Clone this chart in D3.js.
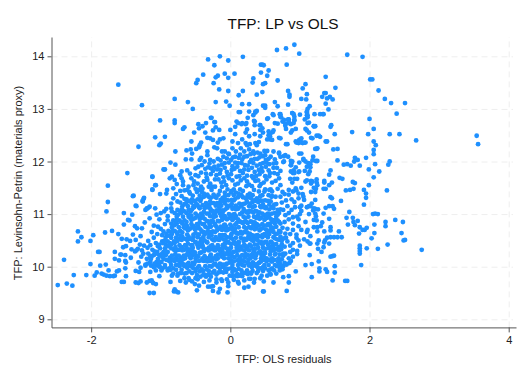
<!DOCTYPE html>
<html><head><meta charset="utf-8">
<script src="https://cdn.jsdelivr.net/npm/d3@7"></script>
<style>html,body{margin:0;padding:0;background:#fff}svg{display:block}text{font-family:"Liberation Sans",Arial,sans-serif}</style>
</head><body><div id="c"></div>
<script>
const titleText="TFP: LP vs OLS", xLabel="TFP: OLS residuals", yLabel="TFP: Levinsohn-Petrin (materials proxy)";
const xTicks=[-2,0,2,4], yTicks=[9,10,11,12,13,14];
const upperPoints=[[-1.61,13.46],[-1.27,13.07],[-.8,13.19],[-.61,13.13],[-.54,13],[-1.01,12.78],[-.8,12.78],[-.8,12.73],[-.66,12.65],[-.68,12.62],[-1.08,12.46],[-.94,12.47],[-1.32,12.28],[-1,12.34],[-1.02,12.31],[-.79,12.19],[-.86,11.98],[-.79,11.94],[-1.48,11.78],[-1.76,11.54],[-1.12,11.71],[-1.08,11.55],[-1.12,11.46],[-.95,11.85],[-.32,13.94],[-.15,14],[-.03,13.92],[.18,13.99],[-.23,13.83],[-.39,13.65],[-.47,13.55],[-.49,13.49],[-.24,13.49],[-.21,13.6],[-.18,13.63],[-.08,13.67],[-.03,13.59],[.06,13.67],[-.16,13.37],[-.03,13.34],[-.21,13.13],[-.06,13.14],[-.01,13.06],[.18,13.34],[.12,13.26],[.17,13.09],[.27,13.09],[.12,12.94],[.33,13.58],[.32,13.5],[.38,13.27],[.44,13.84],[.46,13.84],[.44,13.69],[.47,13.47],[.46,13.32],[.47,13.06],[.5,13.06],[.38,12.96],[.36,12.93],[.33,12.88],[.25,12.83],[-.28,12.83],[-.22,12.75],[.11,12.73],[.16,12.71],[.22,12.71],[.35,12.76],[.43,12.69],
[.67,14.12],[.8,14.15],[.92,14.22],[.99,14.05],[1.68,14.03],[1.9,13.99],[.81,13.84],[.55,13.73],[.48,13.83],[.53,13.63],[.68,13.54],[.5,13.49],[1.37,13.61],[1.08,13.47],[1.04,13.39],[.83,13.34],[.85,13.27],[.85,13.23],[1.1,13.28],[1.02,13.19],[1.09,13.18],[1.51,13.4],[1.35,13.3],[1.37,13.3],[1.32,13.23],[1.39,13.2],[1.43,13.23],[1.47,13.18],[1.37,13.1],[.64,13.13],[.68,13.05],[.83,13.08],[.5,13.02],[1.14,13.05],[1.11,13],[1.1,12.93],[1.1,12.88],[1.11,12.84],[1.07,12.8],[1.41,12.99],[1.21,12.9],[1.33,12.9],[2.01,13.56],[2.04,13.56],[2.13,13.35],[2.22,13.19],[2.31,13.11],[2.51,13.11],[2.39,12.91],[2,12.81],[2.06,12.62],[1.75,12.56],[1.98,12.52],[2.29,12.52],[2.43,12.52],[2.67,12.4],[3.54,12.49],[3.56,12.33],[2.06,12.38],[2.09,12.31],[2.06,12.22],[2.06,12.14],[2.29,12],[2.27,11.94],[2.08,11.95],[1.99,11.85],[2.14,11.81],[2.06,11.7],[1.99,11.55],[1.92,11.46],[2.25,11.45],[1.95,12.07],[1.79,12.07],[1.83,12.03],[1.78,12],[1.86,11.92],[1.73,11.92],[1.68,11.95],[1.63,11.94],[1.54,12.02],[1.48,12.23],[1.54,12.24],[1.5,12.52],[1.45,12.69],[1.44,12.66],[1.27,12.49],[1.24,12.49],[1.16,12.45],[1.37,12.38],[1.24,12.24],[1.22,12.24],[1.19,12.09],[1.23,12.01],[1.12,11.97],[1.14,11.96],[1.44,11.83],[1.14,11.81],[1.07,11.82],[1.12,11.76],[1.57,11.69],[1.61,11.67],[1.76,11.61],[1.79,11.59],[1.35,11.63],[1.46,11.6],[1.24,11.6],[1.16,11.63],[1.16,11.58],[1.08,11.62],[1.2,11.5],[1.37,11.48],[1.66,11.45],[1.72,11.46],[1.77,11.48],[.86,11.67],[.92,11.67],[.89,11.6],[.96,11.67],[.95,11.45],[.98,11.8],[.91,11.83],[.9,11.78],[1.05,12.05],[.99,11.98],[.87,12.01],[.88,11.97],[.87,11.93],[.76,11.99],[.83,12.09],[.77,12.1],[.7,12.15],
[.71,12.9],[.72,12.85],[.75,12.76],[.68,12.72],[.79,12.68],[.87,12.71],[.83,12.8],[.84,12.76],[.92,12.78],[.89,12.92],[.92,12.85],[1,12.89],[.61,12.9],[.53,12.81],[.61,12.56],[.57,12.52],[.55,12.5],[.57,12.42],[.7,12.45],[.72,12.44],[.87,12.55],[.94,12.62],[.8,12.33],[.94,12.38],[.98,12.35],[1.01,12.42],[1.04,12.35],[1.08,12.36],[1.08,12.62],[1.1,12.59],[1.13,12.55],[1.11,12.73],[1.2,12.67],[1.22,12.67]];
const upperCorePoints=[[-.46,12.71],[-.4,12.67],[-.45,12.63],[-.35,12.73],[-.52,12.55],[-.36,12.55],[-.21,12.65],[-.25,12.59],[-.16,12.6],[-.27,12.83],[-.23,12.75],[-.29,12.44],[-.33,12.45],[-.25,12.41],[-.42,12.36],[-.44,12.31],[-.45,12.27],[-.15,12.42],[-.18,12.36],[-.1,12.44],[-.23,12.27],[-.19,12.25],[-.56,12.38],[-.63,12.21],[-.57,12.23],[-.49,12.24],[-.55,12.15],[-.64,12.04],[-.56,12.04],[-.42,12.07],[-.44,12.03],[-.33,12.19],[-.33,12.12],[-.29,12.03],[-.24,12],[-.12,12.19],[-.08,12.19],[-.03,12.15],[-.46,11.9],[-.5,11.87],[-.41,11.93],[-.32,11.89],[-.23,11.9],[-.35,11.77],[-.7,11.81],[-.72,11.74],[-.62,11.83],[-.58,11.77],[-.84,11.71],[-.87,11.68],[-.8,11.65],[-.7,11.68],[-.68,11.62],[-.56,11.68],[-.77,11.57],[-.82,11.49],[-.68,11.55],[-.6,11.52],[-.53,11.55],[-.94,11.85],[-.96,11.85],[-1.12,11.71],[-1.07,11.55],[-1.12,11.47],[-.91,11.46],[-.92,11.39],[-1.01,11.38],[-1.25,11.28],[-1.26,11.24],[-1.39,11.35],[-1.36,11.16],[-1.2,11.11],[-1.16,11.14],[-1.08,11.11],
[.36,12.95],[.14,12.94],[.27,12.95],[.54,12.82],[.62,12.88],[.72,12.9],[.73,12.84],[.64,12.73],[.77,12.79],[.89,12.92],[.91,12.9],[.84,12.8],[.79,12.72],[.84,12.73],[.91,12.73],[.92,12.79],[1.1,12.95],[1.11,12.88],[1.13,12.74],[1.2,12.67],[1.29,12.9],[1.34,12.9],[.8,12.62],[.89,12.59],[.34,12.77],[.35,12.69],[.09,12.76],[.17,12.73],[.23,12.73],[.42,12.69],[.07,12.66],[0,12.6],[.07,12.52],[.24,12.61],[.22,12.55],[.27,12.48],[.35,12.52],[.43,12.6],[.46,12.63],[.47,12.55],[.55,12.57],[.62,12.59],[.57,12.48],[.53,12.42],[.43,12.48],[.41,12.37],[.17,12.42],[.22,12.35],[.24,12.31],[.36,12.35],[.38,12.31],[.28,12.33],[.03,12.38],[.11,12.35],[.6,12.41],[.95,12.36],[.99,12.41],[1.02,12.44],[1.02,12.36],[1.06,12.36],[.82,12.33],[1.18,12.44],[1.29,12.47],[1.39,12.38],[1.25,12.25],[.99,12.15],[1.02,12.15],[.03,12.25],[.08,12.19],[.15,12.25],[.2,12.19],[.27,12.23],[.33,12.19],[.49,12.2],[.53,12.2],[.43,12.15],[.39,12.17],[.34,12.15],[.62,12.19],[.7,12.17],[.72,12.09],[.79,12.12],[.77,12],[.89,12],[.87,11.93],[.94,11.89],[1.05,12.03],[1.08,12],[1.18,12.02],[1.25,12.01],[1.15,11.95],[1.15,11.89],[1.1,11.9],[.99,11.81],[.92,11.78],[.87,11.81],[1.1,11.64],[1.18,11.62],[1.24,11.66],[1.25,11.55],[1.42,11.75],[1.42,11.55],[1.35,11.6],[1.34,11.48],[1.23,11.48],[1.22,11.42],[1.16,11.42],[1.02,11.5],[.94,11.49],[.9,11.43],[.84,11.46],[.75,11.42],[.84,11.37],[1.04,11.38],[.98,11.39],[1.05,11.33],[1.22,11.27],[1.17,11.2],[1.1,11.13],[1.22,11.1],[.98,11.3],[.92,11.23],
[-.38,11.62],[-.29,11.58],[-.22,11.66],[-.13,11.6],[-.06,11.55],[.03,11.64],[.11,11.58],[.2,11.68],[.27,11.56],[.36,11.63],[.44,11.57],[.52,11.66],[.6,11.6],[-.46,11.72],[-.34,11.7],[-.2,11.74],[-.1,11.7],[.01,11.76],[.09,11.71],[.18,11.78],[.31,11.72],[.42,11.76],[.5,11.72],[.63,11.78],[.7,11.68],[-.25,11.82],[-.14,11.84],[-.05,11.8],[.06,11.86],[.14,11.82],[.26,11.84],[.35,11.8],[.45,11.88],[.55,11.83],[.62,11.88],[.72,11.82],[-.17,11.92],[-.08,11.97],[.03,11.91],[.11,11.97],[.21,11.93],[.28,11.99],[.38,11.92],[.47,11.97],[.56,11.95],[.66,11.97],[-.18,12.05],[-.1,12.09],[.01,12.03],[.07,12.09],[.17,12.04],[.24,12.1],[.35,12.05],[.42,12.08],[.51,12.03],[.58,12.09],[.64,12.04],[-.02,12.14],[.14,12.13],[.29,12.14],[.5,12.12],
[-.52,11.62],[-.47,11.58],[-.42,11.52],[-.33,11.65],[-.26,11.52],[-.17,11.66],[-.09,11.62],[-.02,11.68],[.07,11.56],[.15,11.64],[.24,11.62],[.33,11.68],[.4,11.64],[.48,11.6],[.56,11.72],[.65,11.63],[-.5,11.74],[-.42,11.79],[-.28,11.76],[-.15,11.77],[-.04,11.73],[.13,11.72],[.24,11.73],[.37,11.72],[.46,11.81],[.57,11.78],[.68,11.76],[-.36,11.86],[-.28,11.87],[-.19,11.85],[-.08,11.88],[.02,11.84],[.1,11.9],[.2,11.85],[.31,11.88],[.41,11.84],[.51,11.9],[.67,11.88],[-.12,11.94],[-.02,11.98],[.07,11.98],[.16,11.97],[.25,11.92],[.33,11.97],[.43,11.95],[.52,11.98],[.62,11.96],[-.37,12],[-.3,11.96],[-.14,12.02],[-.05,12.06],[.04,12.08],[.12,12.07],[.2,12.09],[.3,12.03],[.39,12.05],[.47,12.1],[.55,12.05]];
const leftPoints=[[-2.48,9.65],[-2.35,9.68],[-2.27,9.64],[-2.25,9.84],[-2.39,10.13],[-2.19,10.67],[-2.14,10.56],[-2.19,10.48],[-1.97,10.6],[-2.01,10.49],[-1.9,10.28],[-1.88,10.28],[-2.01,10.05],[-1.87,10.02],[-1.79,10.04],[-2.07,9.84],[-1.92,9.89],[-1.95,9.83],[-1.85,9.87],[-1.82,9.85],[-1.78,9.83],[-1.73,9.82],[-1.68,9.82],[-1.66,9.83],[-1.75,9.93],[-1.63,9.91],[-1.6,9.93],[-1.66,10.28],[-1.66,10.15],[-1.6,10.12],[-1.58,10.23],[-1.51,10.22],[-1.51,10.11],[-1.5,10.08],[-1.43,10.17],[-1.51,9.97],[-1.5,9.82],[-1.56,9.71],[-1.53,9.71],[-1.36,9.92],[-1.31,9.9],[-1.36,9.7],[-1.32,9.69],[-1.29,9.72],[-1.2,9.7],[-1.16,9.73],[-1.13,9.74],[-1.11,9.69],[-1.07,9.67],[-1.16,9.5],[-1.1,9.5],[-.8,9.57],[-.78,9.53],[-.81,9.53],[-.75,9.51],[-1.78,11.05],[-1.76,11.23],[-1.8,10.65],[-1.7,10.68],[-1.61,10.62],[-1.53,11.02],[-1.53,10.8],[-1.41,10.99],[-1.47,10.89],[-1.45,10.88],[-1.4,11.34],[-1.35,11.15],[-1.24,11.31],[-1.26,11.25],[-1.22,11.08],[-1.18,11.12],[-1.2,11.1],[-1.16,10.92],[-1.23,10.84],[-1.37,10.77],[-1.34,10.73],[-1.27,10.73],[-1.4,10.61],[-1.36,10.51],[-1.29,10.58],[-1.49,10.52],[-1.44,10.49],[-1.56,10.53],[-1.5,10.39],[-1.54,10.37],[-1.57,10.23],[-1.3,10.42],[-1.18,10.49],[-1.33,10.34],[-1.35,10.31],[-1.42,10.33],[-1.37,10.29],[-1.25,10.25],[-1.28,10.19],[-1.2,10.15],[-1.32,10.08],[-1.24,10.4],[-1.15,10.41],[-1.1,10.55],[-1.12,10.32],[-1.18,10.25],[-1.05,10.62],[-1.1,10.78],[-1.02,10.9],[-1,10.72],[-.95,11.05],[-.9,10.96],[-1,11.02],[-1.06,10.99],[-.85,11.2],[-.92,11.1],[-.84,11.05],
[-1.07,10.45],[-1.13,10.66],[-.98,10.6],[-1.04,10.76],[-.94,10.81],[-.9,10.88],[-.96,10.67],[-.85,11.11],[-.82,11.3],[-.78,11.38],[-.72,11.44],[-.7,11.34],[-.76,11.24],[-.66,11.45],[-1.19,10.36],[-1.27,10.31],[-1.13,10.2],[-1.22,10.04],[-1.29,9.98],[-1.15,9.9],[-1.02,9.82]];
const rightPoints=[[2.75,10.32],[2.48,10.85],[2.37,10.89],[2.46,10.64],[2.51,10.51],[2.49,10.5],[2.26,10.42],[2.12,10.34],[2.23,10.85],[2.23,10.77],[2.05,11],[2.08,11.01],[2.12,11],[2.07,10.8],[2.07,10.64],[2.03,10.54],[1.92,11.18],[1.95,11.31],[1.95,11.39],[1.71,11.04],[1.67,10.93],[1.76,10.93],[1.77,10.85],[1.79,10.79],[1.69,10.8],[1.83,10.87],[1.86,10.75],[1.9,10.7],[1.93,10.7],[1.96,10.74],[1.85,10.63],[1.86,10.4],[1.86,10.35],[1.86,10.3],[1.86,10.25],[1.96,10.35],[1.88,10.03],[1.68,9.73],[1.65,9.73],[1.47,9.74],[1.5,10.01],[1.5,9.89],[1.37,9.95],[1.39,9.9],[1.28,9.97],[1.28,9.91],[1.27,10.1],[1.17,10.05],[1.08,10.03],[1.17,9.8],[.94,9.91],[.84,9.82],[.84,9.7],[.76,9.8],[.81,9.54],[.48,9.72],[.48,9.53],[.75,9.95],[.71,9.98],[.58,9.95],[.58,9.85],[1.14,10.22],[1.44,10.19],[1.47,10.2],[1.49,10.21],[1.31,10.28],[1.26,10.34],[1.34,10.37],[1.42,10.44],[1.6,10.56],[1.54,10.56],[1.49,10.56],[1.44,10.56],[1.39,10.55],[1.36,10.5],[1.35,10.46],[1.56,10.67],[1.44,10.75],[1.44,10.69],[1.35,10.67],[1.25,10.67],[1.25,10.75],[1.2,10.75],[1.3,10.77],[1.32,10.84],[1.11,10.7],[1.1,10.66],[1.15,10.58],[1.14,10.44],[1.06,10.52],[1.11,10.48],[1.15,10.44],[1.27,10.5],[1.25,10.44],[1.42,10.91],[1.2,10.89],[1.24,10.88],[1.34,11.01],[1.22,11.01],[1.23,10.96],[1.19,11.07],[1.15,11.15],[1.13,11.15],[1.37,11.12],[1.42,11.15],[1.47,11.15],[1.49,11.1],[1.59,11.25],[1.44,11.32],[1.46,11.3],[.98,10.77],[.95,10.61],[.95,10.55],[.96,10.3],[.96,10.24],[.79,10.25],[.84,10.16],[.87,10.11],[.9,10.32],[.82,10.48],[1,11.13],[1.02,11.16],[.88,11.08],[1,11],[.9,10.94],[1.02,11.06],[.9,10.82],[.96,10.95],[1.2,11.11],[1.26,11.09],[1.13,11],[.98,10.9],[1.08,10.85],[1.02,10.7],[.98,10.5],[1,10.4],[.9,10.45],
[.78,10.38],[.8,10.55],[.86,10.62],[.82,10.72],[.78,10.85],[.84,10.9],[.79,10.98],[.84,11.02],[.76,11.08],[.82,11.15],[.74,11.22],[.8,11.26],[.88,11.28],[.72,11.33],[.78,11.38],[.68,11.48],[.72,11.55],[.9,10.7],[.93,11.13],[.86,10.28],[.74,10.14],[.81,10.04],[.7,10.07],[.9,10.19],[.86,10.4],[1.06,11.27]];
const bottomPoints=[[-.86,9.71],[-.72,9.73],[-.64,9.7],[-.59,9.75],[-.51,9.67],[-.48,9.55],[-.45,9.64],[-.32,9.62],[-.25,9.54],[-.17,9.51],[-.04,9.51],[-.15,9.58],[-.03,9.63],[-.25,9.63],[-.28,9.62],[.26,9.62],[.29,9.77],[.34,9.7],[.43,9.78],[.47,9.53],[.2,9.6],[.12,9.68],[.3,9.87],[.62,9.7],[-.55,9.72],[-.47,9.76],[-.38,9.71],[-.3,9.74],[-.2,9.7],[-.12,9.73],[-.03,9.7],[.05,9.75],[.11,9.71],[.2,9.74]];
const coreChunksA=[
[9.83,[-.84,-.76]],[9.78,[-.66,-.6,-.5]],[9.81,[-.43,-.35,-.28]],[9.76,[-.2,-.13,-.05]],[9.82,[.03,.1,.17]],[9.77,[.27,.35]],[9.83,[.45,.53]],
[9.93,[-1.07,-.99,-.9]],[9.87,[-.82,-.75,-.66]],[9.91,[-.59,-.5,-.44]],[9.85,[-.37,-.3,-.2]],[9.9,[-.14,-.06,.03]],[9.86,[.1,.16,.25]],[9.92,[.32,.4,.47]],[9.87,[.57,.66]],
[10.02,[-1.22,-1.14,-1.05]],[9.97,[-.98,-.88,-.82]],[10.01,[-.73,-.66,-.57]],[9.95,[-.5,-.41,-.34]],[10,[-.27,-.18,-.11]],[9.96,[-.03,.05,.12]],[10.02,[.2,.27,.36]],[9.97,[.43,.5,.6]],[10.01,[.67,.76]],
[10.09,[-1.15,-1.06,-.99]],[10.13,[-.92,-.83,-.76]],[10.07,[-.7,-.6,-.54]],[10.11,[-.45,-.38,-.29]],[10.06,[-.22,-.15,-.05]],[10.12,[.01,.1,.17]],[10.08,[.25,.32,.42]],[10.13,[.48,.56,.63]],[10.07,[.7,.78,.85]],
[10.22,[-1.1,-1.02,-.93]],[10.17,[-.87,-.78,-.71]],[10.21,[-.64,-.55,-.49]],[10.16,[-.4,-.33,-.25]],[10.23,[-.18,-.08,-.02]],[10.18,[.06,.14,.21]],[10.22,[.3,.37,.45]],[10.16,[.52,.6,.69]],[10.21,[.76]],
[10.28,[-1.05,-.96,-.9]],[10.32,[-.81,-.74,-.66]],[10.27,[-.58,-.51,-.42]],[10.33,[-.35,-.26,-.2]],[10.28,[-.11,-.04,.05]],[10.31,[.12,.2,.27]],[10.26,[.35,.44,.5]],[10.33,[.58,.65,.73]],
[10.42,[-1.02,-.93,-.85]],[10.37,[-.79,-.7,-.63]],[10.41,[-.55,-.47,-.4]],[10.36,[-.31,-.23,-.17]],[10.43,[-.08,.01,.07]],[10.38,[.15,.24,.3]],[10.42,[.39,.46,.54]],[10.37,[.62,.69]],
[10.48,[-.98,-.9,-.81]],[10.53,[-.74,-.65,-.59]],[10.47,[-.5,-.43,-.34]],[10.52,[-.26,-.19,-.1]],[10.46,[-.03,.06,.12]],[10.53,[.21,.28,.36]],[10.47,[.44,.52,.59]],[10.52,[.67,.73]],
[10.62,[-.92,-.84,-.76]],[10.57,[-.69,-.6,-.53]],[10.61,[-.45,-.37,-.3]],[10.56,[-.21,-.14,-.05]],[10.63,[.02,.1,.17]],[10.58,[.26,.33,.41]],[10.62,[.49,.56,.65]],[10.57,[.72]],
[10.68,[-.89,-.8,-.72]],[10.73,[-.65,-.57,-.48]],[10.67,[-.41,-.33,-.25]],[10.72,[-.17,-.1,-.01]],[10.66,[.06,.15,.21]],[10.73,[.3,.37,.46]],[10.68,[.53,.6,.7]],
[10.82,[-.85,-.77,-.69]],[10.77,[-.62,-.53,-.46]],[10.81,[-.38,-.3,-.22]],[10.76,[-.14,-.06,.02]],[10.83,[.09,.18,.25]],[10.78,[.33,.41,.48]],[10.82,[.57,.64,.72]],
[10.88,[-.82,-.73,-.66]],[10.93,[-.58,-.5,-.42]],[10.87,[-.34,-.27,-.18]],[10.92,[-.1,-.03,.06]],[10.86,[.13,.21,.29]],[10.93,[.37,.44,.53]],[10.88,[.6,.68]],
[11.02,[-.8,-.71,-.63]],[10.97,[-.56,-.47,-.4]],[11.01,[-.31,-.24,-.15]],[10.96,[-.08,.01,.08]],[11.03,[.17,.24,.33]],[10.98,[.4,.48,.56]],[11.02,[.64,.7]],
[11.08,[-.76,-.69,-.6]],[11.13,[-.52,-.45,-.36]],[11.07,[-.28,-.2,-.12]],[11.12,[-.04,.04,.12]],[11.06,[.2,.27,.36]],[11.13,[.44,.51,.6]],[11.08,[.68]],
[11.22,[-.72,-.63,-.56]],[11.17,[-.47,-.4,-.31]],[11.21,[-.24,-.15,-.08]],[11.16,[0,.08,.16]],[11.23,[.24,.32,.4]],[11.18,[.47,.56,.63]],
[11.28,[-.63,-.55,-.47]],[11.33,[-.38,-.31,-.22]],[11.27,[-.14,-.06,.02]],[11.32,[.11,.18,.27]],[11.26,[.35,.43,.5]],[11.33,[.59,.65]],
[11.42,[-.59,-.48,-.41]],[11.37,[-.33,-.24,-.17]],[11.41,[-.08,.01,.08]],[11.36,[.16,.25,.32]],[11.43,[.41,.49,.6]],
[11.48,[-.5,-.4]],[11.52,[-.31,-.22,-.12]],[11.47,[-.04,.05,.14]],[11.53,[.23,.31,.42]],[11.47,[.5,.58]]];
const coreChunksB=[
[9.88,[-.71,-.63,-.55]],[9.84,[-.48,-.39,-.33]],[9.89,[-.25,-.17,-.1]],[9.83,[-.01,.07,.13]],[9.88,[.21,.29,.38]],
[9.99,[-1.1,-1.01,-.94]],[9.94,[-.86,-.78,-.7]],[9.98,[-.62,-.54,-.47]],[9.92,[-.39,-.31,-.23]],[9.97,[-.15,-.08,.01]],[9.93,[.08,.16,.24]],[9.99,[.31,.39,.47]],[9.93,[.55,.63,.71]],
[10.06,[-1.19,-1.09,-1.02]],[10.03,[-.94,-.85,-.78]],[10.05,[-.68,-.61,-.52]],[10.01,[-.45,-.36,-.3]],[10.04,[-.21,-.12,-.06]],[10.03,[.03,.11,.17]],[10.07,[.25,.33,.41]],[10.03,[.49,.55,.64]],
[10.15,[-1.14,-1.04,-.96]],[10.11,[-.88,-.8,-.73]],[10.16,[-.65,-.57,-.5]],[10.12,[-.41,-.34,-.26]],[10.16,[-.18,-.09,-.03]],[10.1,[.05,.13,.2]],[10.16,[.29,.36,.44]],[10.1,[.52,.6,.68]],
[10.25,[-1.07,-.98,-.92]],[10.21,[-.84,-.74,-.67]],[10.26,[-.6,-.52,-.44]],[10.2,[-.37,-.29,-.21]],[10.25,[-.13,-.05,.02]],[10.22,[.1,.17,.25]],[10.27,[.33,.41,.48]],[10.23,[.57,.64,.71]],
[10.35,[-1.01,-.94,-.85]],[10.31,[-.78,-.69,-.61]],[10.36,[-.54,-.46,-.39]],[10.31,[-.31,-.22,-.15]],[10.36,[-.07,.01,.09]],[10.33,[.16,.24,.33]],[10.36,[.4,.47,.55]],[10.31,[.62,.7]],
[10.45,[-.97,-.87,-.8]],[10.41,[-.73,-.65,-.56]],[10.46,[-.5,-.41,-.33]],[10.41,[-.26,-.18,-.11]],[10.47,[-.03,.05,.12]],[10.42,[.2,.28,.35]],[10.47,[.42,.5,.58]],[10.43,[.66,.74]],
[10.55,[-.93,-.85,-.78]],[10.51,[-.7,-.62,-.54]],[10.56,[-.47,-.39,-.31]],[10.51,[-.24,-.16,-.07]],[10.55,[0,.08,.15]],[10.51,[.23,.31,.39]],[10.56,[.46,.54,.62]],[10.51,[.7]],
[10.65,[-.85,-.77,-.69]],[10.61,[-.62,-.53,-.46]],[10.66,[-.39,-.3,-.22]],[10.6,[-.15,-.08,.01]],[10.65,[.08,.15,.24]],[10.6,[.31,.39,.46]],[10.66,[.54,.62,.72]],
[10.75,[-.84,-.74,-.67]],[10.71,[-.59,-.51,-.43]],[10.76,[-.36,-.28,-.2]],[10.7,[-.12,-.04,.04]],[10.75,[.12,.2,.27]],[10.71,[.35,.43,.51]],[10.76,[.58,.66]],
[10.85,[-.79,-.71,-.63]],[10.81,[-.56,-.48,-.4]],[10.86,[-.32,-.25,-.16]],[10.8,[-.08,0,.07]],[10.85,[.15,.23,.31]],[10.81,[.38,.46,.54]],[10.85,[.62,.7]],
[10.95,[-.77,-.68,-.6]],[10.91,[-.53,-.44,-.37]],[10.96,[-.29,-.21,-.13]],[10.9,[-.05,.03,.11]],[10.95,[.19,.26,.34]],[10.91,[.42,.5,.58]],[10.95,[.66]],
[11.05,[-.72,-.66,-.57]],[11.01,[-.5,-.42,-.34]],[11.06,[-.26,-.17,-.1]],[11,[-.02,.06,.14]],[11.05,[.22,.3,.38]],[11.01,[.46,.54,.6]],
[11.15,[-.69,-.61,-.53]],[11.11,[-.44,-.37,-.29]],[11.16,[-.21,-.13,-.05]],[11.1,[.03,.11,.19]],[11.15,[.27,.35,.43]],[11.11,[.51,.62]],
[11.25,[-.59,-.51,-.43]],[11.21,[-.35,-.27,-.19]],[11.26,[-.11,-.03,.05]],[11.2,[.13,.21,.29]],[11.25,[.37,.46,.54]],
[11.35,[-.54,-.44,-.36]],[11.31,[-.28,-.2,-.11]],[11.36,[-.03,.05,.13]],[11.3,[.22,.3,.38]],[11.36,[.46,.55]]];
const coreChunksC=[
[10.09,[-1.02,-.86]],[10.04,[-.75,-.63]],[10.1,[-.5,-.33]],[10.04,[-.24,-.09]],[10.08,[-.01,.14]],[10.05,[.29,.38]],[10.1,[.44,.59]],[10.05,[.72,.8]],
[10.19,[-1.15,-.98]],[10.14,[-.82,-.68]],[10.19,[-.58,-.46]],[10.14,[-.31,-.2]],[10.19,[-.12,.02]],[10.14,[.12,.26]],[10.19,[.34,.48]],[10.13,[.56,.72]],
[10.29,[-1.09,-.93]],[10.24,[-.79,-.62]],[10.29,[-.54,-.38]],[10.23,[-.28,-.15]],[10.3,[-.01,.09]],[10.24,[.22,.37]],[10.29,[.43,.58]],[10.25,[.65,.76]],
[10.39,[-1.04,-.89]],[10.33,[-.72,-.58]],[10.39,[-.43,-.28]],[10.34,[-.12,-.03]],[10.39,[.12,.21]],[10.34,[.36,.51]],[10.39,[.6,.73]],
[10.49,[-.95,-.76]],[10.44,[-.61,-.46]],[10.5,[-.37,-.23]],[10.44,[-.08,.08]],[10.49,[.19,.33]],[10.44,[.47,.61]],[10.5,[.74]],
[10.59,[-.89,-.72]],[10.53,[-.57,-.42]],[10.6,[-.27,-.11]],[10.53,[.03,.19]],[10.59,[.36,.51]],[10.54,[.64,.77]],
[10.69,[-.83,-.61]],[10.64,[-.5,-.35]],[10.69,[-.19,-.06]],[10.63,[.12,.28]],[10.69,[.42,.57]],[10.63,[.68,.79]],
[10.79,[-.8,-.64]],[10.74,[-.48,-.32]],[10.79,[-.22,-.09]],[10.73,[.07,.23]],[10.79,[.38,.53]],[10.74,[.62,.75]],
[10.89,[-.77,-.56]],[10.84,[-.44,-.28]],[10.89,[-.12,.03]],[10.84,[.19,.35]],[10.89,[.49,.64]],
[10.99,[-.75,-.6]],[10.94,[-.4,-.24]],[10.99,[-.11,.04]],[10.93,[.22,.39]],[10.99,[.52,.68]],
[11.09,[-.7,-.55]],[11.04,[-.38,-.21]],[11.09,[-.07,.08]],[11.03,[.26,.42]],[11.09,[.56,.72]],
[11.19,[-.66,-.49]],[11.13,[-.32,-.16]],[11.19,[.02,.18]],[11.13,[.32,.48]],[11.19,[.66]],
[11.29,[-.66,-.42]],[11.24,[-.29,-.13]],[11.29,[.07,.23]],[11.24,[.41,.58]],
[11.39,[-.58,-.38]],[11.34,[-.24,-.08]],[11.39,[.12,.28]],[11.34,[.43,.6]],
[11.46,[-.62,-.45,-.27]],[11.44,[-.15,.02,.18]],[11.46,[.34,.56]]];
const toPoints=chunks=>chunks.flatMap(([yv,xs])=>xs.map(xv=>[xv,yv]));
const allPoints=[...upperPoints,...upperCorePoints,...leftPoints,...rightPoints,...bottomPoints,...toPoints(coreChunksA),...toPoints(coreChunksB),...toPoints(coreChunksC)];

const W=528,H=384;
const x=d3.scaleLinear().domain([-2.57,4.105]).range([51.5,516]);
const y=d3.scaleLinear().domain([8.846,14.367]).range([327.4,37]);
const svg=d3.select("#c").append("svg").attr("width",W).attr("height",H).attr("viewBox",`0 0 ${W} ${H}`);
const gridStyle=g=>{g.select(".domain").remove();g.selectAll("text").remove();g.selectAll("line").attr("stroke","#eeeeee").attr("stroke-width",1).attr("stroke-dasharray","6 4");};
svg.append("g").attr("transform","translate(0,327.4)").call(d3.axisBottom(x).tickValues(xTicks).tickSize(-290.4)).call(gridStyle);
svg.append("g").attr("transform","translate(51.5,0)").call(d3.axisLeft(y).tickValues(yTicks).tickSize(-461.5)).call(gridStyle);
svg.append("g").selectAll("circle").data(allPoints).join("circle")
  .attr("cx",d=>x(d[0])).attr("cy",d=>y(d[1])).attr("r",2.4).attr("fill","#1e90ff");
const axisStyle=g=>{g.select(".domain").attr("stroke","#555").attr("stroke-width",1);g.selectAll(".tick line").attr("stroke","#555");g.selectAll("text").attr("fill","#222").style("font-size","11px").style("font-family",'"Liberation Sans",Arial,sans-serif');};
const fmt=d=>String(d);
svg.append("g").attr("transform","translate(0,327.4)").call(d3.axisBottom(x).tickValues(xTicks).tickFormat(fmt).tickSize(5).tickSizeOuter(0).tickPadding(4)).call(axisStyle);
svg.append("g").attr("transform","translate(51.5,0)").call(d3.axisLeft(y).tickValues(yTicks).tickFormat(fmt).tickSize(4).tickSizeOuter(0).tickPadding(3)).call(axisStyle);
svg.append("text").attr("x",283).attr("y",29).attr("text-anchor","middle").attr("font-size",15.4).attr("fill","#111").text(titleText);
svg.append("text").attr("x",283.5).attr("y",363).attr("text-anchor","middle").attr("font-size",11).attr("fill","#222").text(xLabel);
svg.append("text").attr("transform","translate(21.5,183) rotate(-90)").attr("text-anchor","middle").attr("font-size",11).attr("fill","#222").text(yLabel);
</script></body></html>
